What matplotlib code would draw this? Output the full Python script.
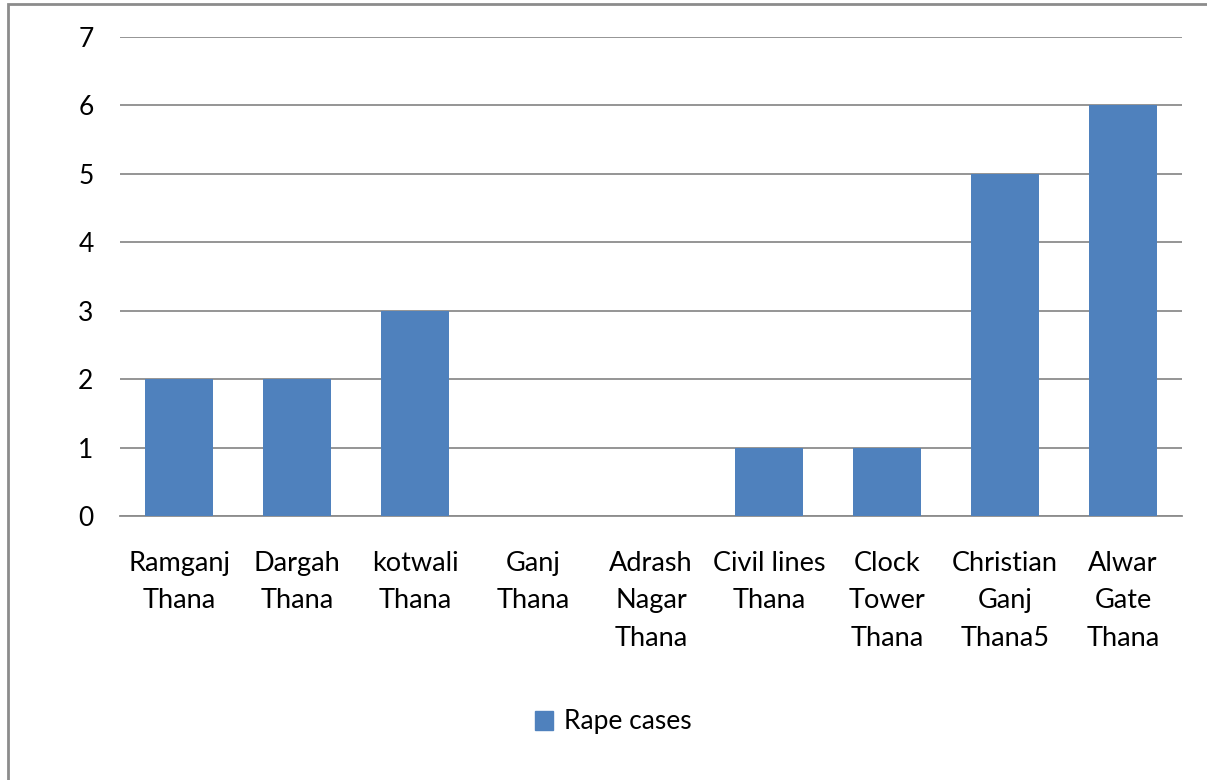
import matplotlib
matplotlib.use("Agg")
import matplotlib.pyplot as plt
from matplotlib.patches import Rectangle, Patch

categories = ["Ramganj\nThana", "Dargah\nThana", "kotwali\nThana", "Ganj\nThana",
              "Adrash\nNagar\nThana", "Civil lines\nThana", "Clock\nTower\nThana",
              "Christian\nGanj\nThana5", "Alwar\nGate\nThana"]
rape_cases = [2, 2, 3, 0, 0, 1, 1, 5, 6]
yticks = [0, 1, 2, 3, 4, 5, 6, 7]

plt.rcParams['font.family'] = ['Lato', 'DejaVu Sans']
W, H = 1207, 780
fig = plt.figure(figsize=(W / 100, H / 100), dpi=100)
ax = fig.add_axes([120 / W, 1 - 516 / H, 1062 / W, (516 - 37) / H])

bar_color = "#4F81BD"
ax.bar(range(len(categories)), rape_cases, width=0.57, color=bar_color, zorder=3)
ax.set_xlim(-0.5, len(categories) - 0.5)
ax.set_ylim(0, 7)
ax.set_yticks(yticks)
ax.set_yticklabels([str(v) for v in yticks], fontsize=19, color="black")
ax.set_xticks(range(len(categories)))
ax.set_xticklabels(categories, fontsize=19.5, linespacing=1.62, va="top", color="black")
ax.tick_params(axis="both", length=0)
ax.tick_params(axis="y", pad=19)
ax.tick_params(axis="x", pad=25)
ax.grid(axis="y", color="#8C8C8C", linewidth=1.3, zorder=0)
for s in ["top", "right", "left"]:
    ax.spines[s].set_visible(False)
ax.spines["bottom"].set_color("#8C8C8C")
ax.spines["bottom"].set_linewidth(1.3)

leg = fig.legend(handles=[Patch(color=bar_color, label="Rape cases")],
                 loc="center", bbox_to_anchor=(613 / W, 1 - 722 / H),
                 frameon=False, fontsize=19, handlelength=0.7, handleheight=0.7,
                 handletextpad=0.4)

fig.patches.append(Rectangle((8 / W, -0.1), 1.2, (1 - 4 / H) + 0.1,
                             transform=fig.transFigure, fill=False,
                             edgecolor="#8C8C8C", linewidth=2))

fig.savefig("out.png", dpi=100)
